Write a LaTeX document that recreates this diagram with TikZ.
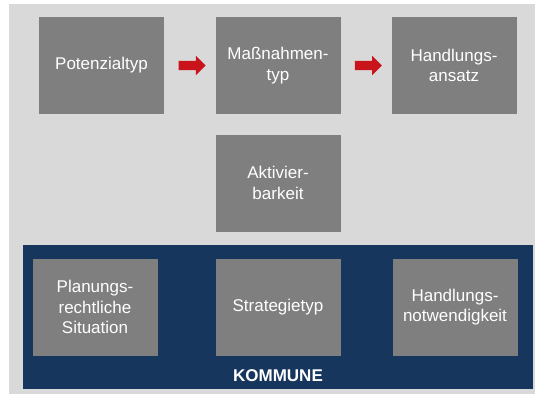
\documentclass[tikz,border=0pt]{standalone}
\usepackage{fontspec}
\setmainfont{Liberation Sans}
\usetikzlibrary{shapes.arrows,calc}
\definecolor{bggray}{HTML}{D9D9D9}
\definecolor{boxgray}{HTML}{7F7F7F}
\definecolor{navy}{HTML}{17365D}
\definecolor{arrowred}{HTML}{C8141A}
\begin{document}
\begin{tikzpicture}[x=1pt,y=-1pt,
  box/.style={rectangle, fill=boxgray, text=white, align=center,
    minimum width=125pt, minimum height=97pt, inner sep=0pt,
    font=\fontsize{17}{20.5}\selectfont},
  fatarrow/.style={single arrow, fill=arrowred, draw=none,
    inner xsep=0pt, inner ysep=4.5pt, text height=0pt, text depth=0pt,
    single arrow head extend=5pt, single arrow head indent=0pt,
    minimum height=27pt}]
\useasboundingbox (0,0) rectangle (535,396);
\fill[white] (0,0) rectangle (535,396);
\fill[bggray] (9,4) rectangle (535,394);
\node[fill=navy, minimum width=510pt, minimum height=144pt, inner sep=0pt] (kommune) at (278,317) {};
\node[box] (pot) at (101.5,65.5) {Potenzialtyp};
\node[box] (mass) at (278,65.5) {Maßnahmen-\\typ};
\node[box] (hand) at (454,65.5) {Handlungs-\\ansatz};
\node[box] (akt) at (278,183) {Aktivier-\\barkeit};
\node[box] (plan) at (95,307) {Planungs-\\rechtliche\\Situation};
\node[box] (strat) at (278,307) {Strategietyp};
\node[box] (not) at (455,307) {Handlungs-\\notwendigkeit};
\node[text=white, font=\bfseries\fontsize{17}{20}\selectfont] (klabel) at (278,376) {KOMMUNE};
\node[fatarrow] (a1) at ($(pot.east)!0.5!(mass.west)$) {};
\node[fatarrow] (a2) at ($(mass.east)!0.5!(hand.west)$) {};
\end{tikzpicture}
\end{document}
